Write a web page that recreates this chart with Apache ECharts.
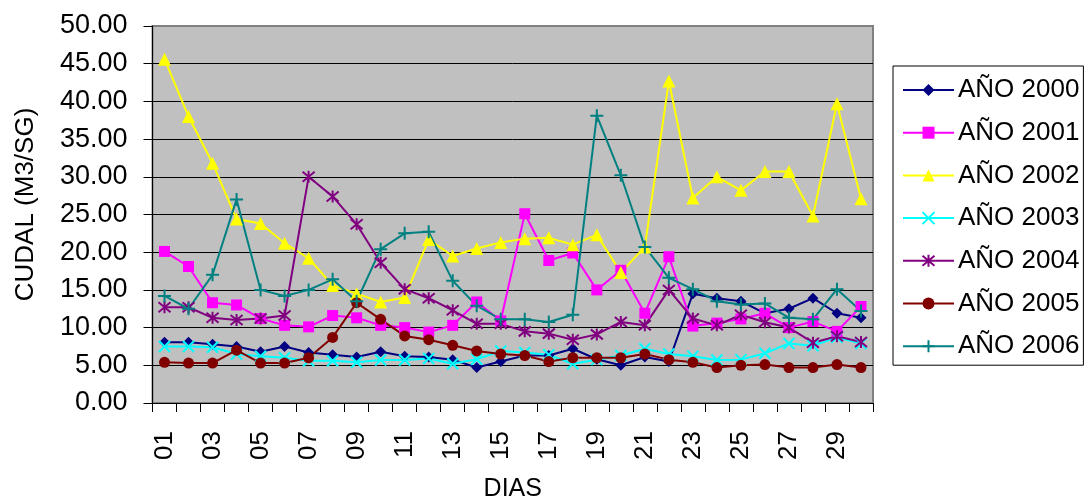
<!DOCTYPE html>
<html>
<head>
<meta charset="utf-8">
<script src="https://cdn.jsdelivr.net/npm/echarts@6/dist/echarts.min.js"></script>
<style>html,body{margin:0;padding:0;background:#fff}#c{width:1088px;height:499px}</style>
</head>
<body>
<div id="c"></div>
<script>
const days = ['01','02','03','04','05','06','07','08','09','10','11','12','13','14','15','16','17','18','19','20','21','22','23','24','25','26','27','28','29','30'];
const yTicks = [0,5,10,15,20,25,30,35,40,45,50];
const seriesNames = ['AÑO 2000','AÑO 2001','AÑO 2002','AÑO 2003','AÑO 2004','AÑO 2005','AÑO 2006'];
const y2000 = [8.05,8.05,7.8,7.5,6.8,7.5,6.7,6.4,6.1,6.8,6.2,6.1,5.75,4.7,5.5,6.3,6.3,7.2,5.8,5.0,6.1,5.5,14.5,13.9,13.5,11.9,12.5,13.9,11.9,11.3];
const y2001 = [20.1,18.1,13.3,13.0,11.2,10.3,10.1,11.6,11.3,10.3,10.0,9.4,10.3,13.4,10.9,25.1,18.9,19.9,15.0,17.6,11.9,19.4,10.2,10.6,11.15,11.9,10.0,10.8,9.5,12.8];
const y2002 = [45.6,38.0,31.8,24.4,23.8,21.2,19.2,15.6,14.5,13.4,14.0,21.7,19.5,20.5,21.3,21.8,21.9,21.0,22.3,17.3,20.7,42.7,27.2,30.0,28.2,30.7,30.7,24.8,39.7,27.1];
const y2003 = [7.5,7.5,7.4,6.5,6.2,6.0,5.6,5.6,5.4,5.7,5.7,5.9,5.2,5.8,6.9,6.7,6.4,5.2,5.75,6.3,7.2,6.5,6.2,5.7,5.75,6.6,7.9,7.6,8.7,7.9];
const y2004 = [12.7,12.7,11.3,11.0,11.2,11.6,30.0,27.4,23.7,18.6,15.1,13.9,12.3,10.5,10.5,9.5,9.2,8.4,9.1,10.75,10.3,15.0,11.2,10.3,11.7,10.7,10.0,8.0,8.85,8.1];
const y2005 = [5.4,5.3,5.3,7.0,5.3,5.3,6.0,8.7,13.3,11.1,8.9,8.4,7.65,6.9,6.5,6.3,5.5,6.0,6.0,6.0,6.5,5.75,5.4,4.7,5.0,5.1,4.7,4.7,5.1,4.7];
const y2006 = [14.2,12.5,17.0,27.0,15.0,14.2,15.0,16.4,13.5,20.4,22.5,22.7,16.2,12.9,11.1,11.1,10.75,11.7,38.1,30.2,20.7,16.6,15.1,13.5,13.05,13.2,11.3,11.1,15.1,12.2];

const FONT = "'Liberation Sans', Arial, sans-serif";
const styles = [
  {color:'#000080', symbol:'diamond', size:11},
  {color:'#FF00FF', symbol:'rect', size:11},
  {color:'#FFFF00', symbol:'triangle', size:13},
  {color:'#00FFFF', symbol:'path://M0,0L10,10M10,0L0,10', size:11, stroke:true},
  {color:'#800080', symbol:'path://M0,0L10,10M10,0L0,10M5,-1L5,11', size:12, stroke:true},
  {color:'#800000', symbol:'circle', size:11},
  {color:'#008080', symbol:'path://M5,0L5,10M0,5L10,5', size:13, stroke:true}
];
const dataSets = [y2000,y2001,y2002,y2003,y2004,y2005,y2006];

const series = dataSets.map((d,i)=>{
  const s = styles[i];
  return {
    name: seriesNames[i], type:'line', data:d,
    symbol: s.symbol, symbolSize: s.size, showAllSymbol:true,
    lineStyle:{color:s.color, width:2},
    itemStyle: s.stroke ? {color:'rgba(0,0,0,0)', borderColor:s.color, borderWidth:2} : {color:s.color, borderWidth:0},
    emphasis:{disabled:true}
  };
});

const splitColors = yTicks.map(v => v === 50 ? '#808080' : '#000000');

const chart = echarts.init(document.getElementById('c'), null, {renderer:'canvas'});
chart.setOption({
  animation:false,
  backgroundColor:'#ffffff',
  grid:{left:152.5, right:215, top:26, bottom:96, containLabel:false, outerBoundsMode:'none',
        show:true, backgroundColor:'#C0C0C0', borderColor:'#808080', borderWidth:2},
  xAxis:{
    type:'category', data:days, boundaryGap:true,
    name:'DIAS', nameLocation:'middle', nameGap:74,
    nameTextStyle:{fontFamily:FONT, fontSize:25, color:'#000'},
    axisLine:{lineStyle:{color:'#000', width:1}},
    axisTick:{show:true, interval:0, length:9, lineStyle:{color:'#000'}},
    axisLabel:{interval:1, rotate:90, fontFamily:FONT, fontSize:26, color:'#000', margin:28},
    splitLine:{show:false}
  },
  yAxis:{
    type:'value', min:0, max:50, interval:5,
    name:'CUDAL (M3/SG)', nameLocation:'middle', nameGap:114, nameRotate:90,
    nameTextStyle:{fontFamily:FONT, fontSize:26, color:'#000', padding:[0,0,0,20]},
    axisLine:{show:true, lineStyle:{color:'#000', width:1}},
    axisTick:{show:true, length:9, lineStyle:{color:'#000'}},
    axisLabel:{fontFamily:FONT, fontSize:27, color:'#000', margin:25, formatter:v=>v.toFixed(2)},
    splitLine:{show:true, lineStyle:{color:splitColors, width:1}}
  },
  legend:{
    orient:'vertical', left:893, top:66,
    data:seriesNames,
    itemWidth:51, itemHeight:15, itemGap:16.7,
    padding:[11,4,6,9],
    borderColor:'#000', borderWidth:1, backgroundColor:'#fff',
    textStyle:{fontFamily:FONT, fontSize:26, color:'#000', padding:[0,0,0,-1]}
  },
  series: series
});
</script>
</body>
</html>
